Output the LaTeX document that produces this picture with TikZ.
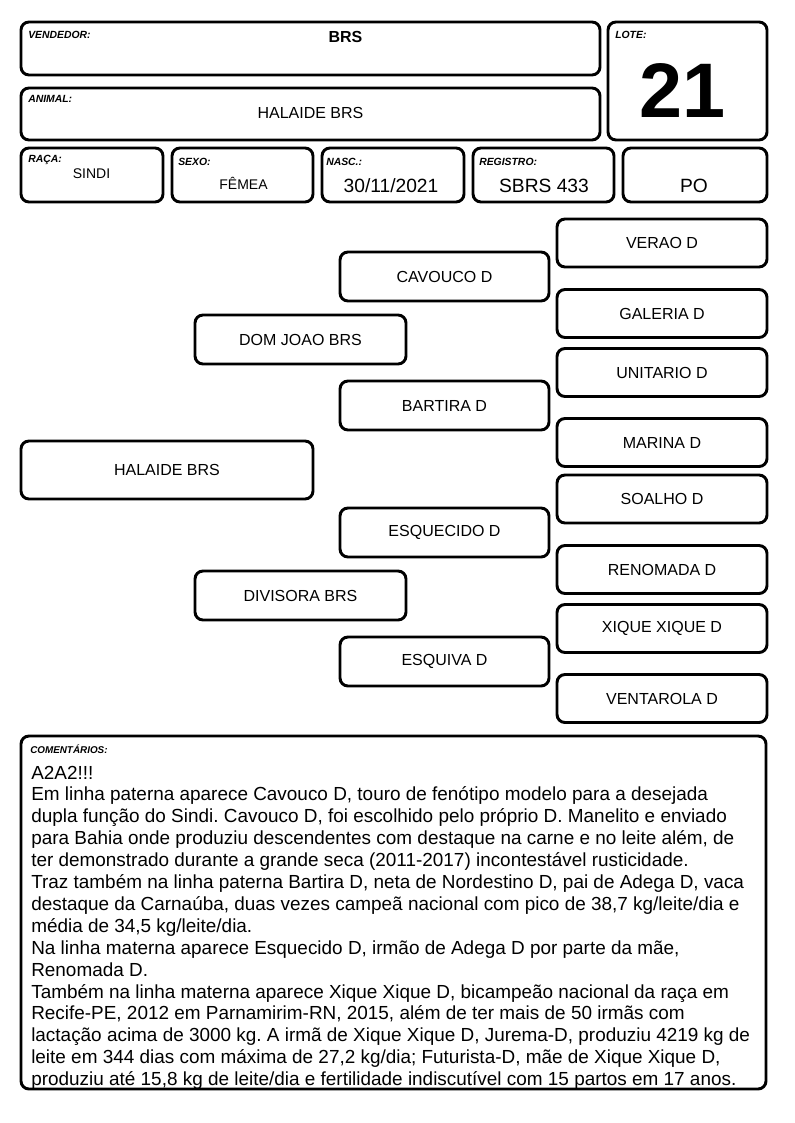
\documentclass[tikz,border=0pt]{standalone}
\usepackage{fontspec}
\setmainfont{Liberation Sans}
\frenchspacing
\newcommand{\fsRotulo}{\bfseries\itshape\fontsize{7.8}{9}\selectfont}
\newcommand{\fsNome}{\fontsize{12}{14}\selectfont}
\newcommand{\fsMedio}{\fontsize{10.5}{12}\selectfont}
\newcommand{\fsGrande}{\fontsize{14.4}{17}\selectfont}
\newcommand{\fsTexto}{\fontsize{14.2}{16.3}\selectfont}
\tikzset{
  ficha/.style={draw, line width=2.2pt, rounded corners=6pt, inner sep=0pt, font=\fsNome},
  tam/.style 2 args={minimum width=#1*0.75pt, minimum height=#2*0.75pt},
  rotulo/.style={anchor=base west, inner sep=0pt, font=\fsRotulo},
  valor/.style={anchor=base, inner sep=0pt},
  comentario/.style={anchor=base west, inner sep=0pt, font=\fsTexto},
}
\begin{document}
\begin{tikzpicture}[x=0.75pt, y=-0.75pt]
  \useasboundingbox (0,0) rectangle (794,1123);
  % cabecalho
  \node[ficha, tam={579}{53}] (vend) at (310.5,48.5) {};
  \node[ficha, tam={159}{118}] (lote) at (687.5,81) {};
  \node[ficha, tam={579}{52}] (animal) at (310.5,114) {};
  \node[ficha, tam={142}{54}] (raca) at (92,175) {};
  \node[ficha, tam={141}{54}] (sexo) at (242.5,175) {};
  \node[ficha, tam={142}{54}] (nasc) at (393,175) {};
  \node[ficha, tam={141}{54}] (registro) at (543.5,175) {};
  \node[ficha, tam={144}{54}] (pureza) at (695,175) {};
  \node[rotulo] (lvend) at (28,39) {VENDEDOR:};
  \node[valor, font=\bfseries\fsNome] (tvend) at (345.5,43) {BRS};
  \node[rotulo] (llote) at (615,39) {LOTE:};
  \node[valor, font=\bfseries\fontsize{58}{60}\selectfont] (tlote) at (682.5,118) {21};
  \node[rotulo] (lanimal) at (28,103) {ANIMAL:};
  \node[valor, font=\fsNome] (tanimal) at (310.5,119) {HALAIDE BRS};
  \node[rotulo] (lraca) at (28,163) {RAÇA:};
  \node[valor, font=\fsMedio] (traca) at (91.5,179) {SINDI};
  \node[rotulo] (lsexo) at (178,166) {SEXO:};
  \node[valor, font=\fsMedio] (tsexo) at (243.5,190) {FÊMEA};
  \node[rotulo] (lnasc) at (326,166) {NASC.:};
  \node[valor, font=\fsGrande] (tnasc) at (391,193) {30/11/2021};
  \node[rotulo] (lregistro) at (479,166) {REGISTRO:};
  \node[valor, font=\fsGrande] (tregistro) at (544,193) {SBRS 433};
  \node[valor, font=\fsGrande] (tpureza) at (694,193) {PO};
  % genealogia
  \node[ficha, tam={292}{58}] (halaide) at (167,470) {HALAIDE BRS};
  \node[ficha, tam={211}{49}] (domjoao) at (300.5,339.5) {DOM JOAO BRS};
  \node[ficha, tam={211}{49}] (divisora) at (300.5,595.5) {DIVISORA BRS};
  \node[ficha, tam={209}{49}] (cavouco) at (444.5,276.5) {CAVOUCO D};
  \node[ficha, tam={209}{49}] (bartira) at (444.5,405.5) {BARTIRA D};
  \node[ficha, tam={209}{49}] (esquecido) at (444.5,532.5) {ESQUECIDO D};
  \node[ficha, tam={209}{49}] (esquiva) at (444.5,661.5) {ESQUIVA D};
  \node[ficha, tam={210}{48}] (verao) at (662,243) {VERAO D};
  \node[ficha, tam={210}{48}] (galeria) at (662,313.5) {GALERIA D};
  \node[ficha, tam={210}{48}] (unitario) at (662,372.5) {UNITARIO D};
  \node[ficha, tam={210}{48}] (marina) at (662,442.5) {MARINA D};
  \node[ficha, tam={210}{48}] (soalho) at (662,499) {SOALHO D};
  \node[ficha, tam={210}{48}] (renomada) at (662,569.5) {RENOMADA D};
  \node[ficha, tam={210}{48}] (xique) at (662,628.5) {XIQUE XIQUE D};
  \node[ficha, tam={210}{48}] (ventarola) at (662,698.5) {VENTAROLA D};
  % comentarios
  \begin{scope}
    \clip[rounded corners=6pt] (21,736) rectangle (766,1088);
    \node[rotulo, font=\bfseries\itshape\fontsize{7.4}{9}\selectfont] (lcoment) at (30,753) {COMENTÁRIOS:};
    \foreach \linha [count=\n from 0] in {
      {A2A2!!!},
      {Em linha paterna aparece Cavouco D, touro de fenótipo modelo para a desejada},
      {dupla função do Sindi. Cavouco D, foi escolhido pelo próprio D. Manelito e enviado},
      {para Bahia onde produziu descendentes com destaque na carne e no leite além, de},
      {ter demonstrado durante a grande seca (2011-2017) incontestável rusticidade.},
      {Traz também na linha paterna Bartira D, neta de Nordestino D, pai de Adega D, vaca},
      {destaque da Carnaúba, duas vezes campeã nacional com pico de 38,7 kg/leite/dia e},
      {média de 34,5 kg/leite/dia.},
      {Na linha materna aparece Esquecido D, irmão de Adega D por parte da mãe,},
      {Renomada D.},
      {Também na linha materna aparece Xique Xique D, bicampeão nacional da raça em},
      {Recife-PE, 2012 em Parnamirim-RN, 2015, além de ter mais de 50 irmãs com},
      {lactação acima de 3000 kg. A irmã de Xique Xique D, Jurema-D, produziu 4219 kg de},
      {leite em 344 dias com máxima de 27,2 kg/dia; Futurista-D, mãe de Xique Xique D,},
      {produziu até 15,8 kg de leite/dia e fertilidade indiscutível com 15 partos em 17 anos.}}
      \node[comentario] (c\n) at (31,{779+21.9*\n}) {\linha};
  \end{scope}
  \node[ficha, tam={745}{353}] (coment) at (393.5,912.5) {};
\end{tikzpicture}
\end{document}
